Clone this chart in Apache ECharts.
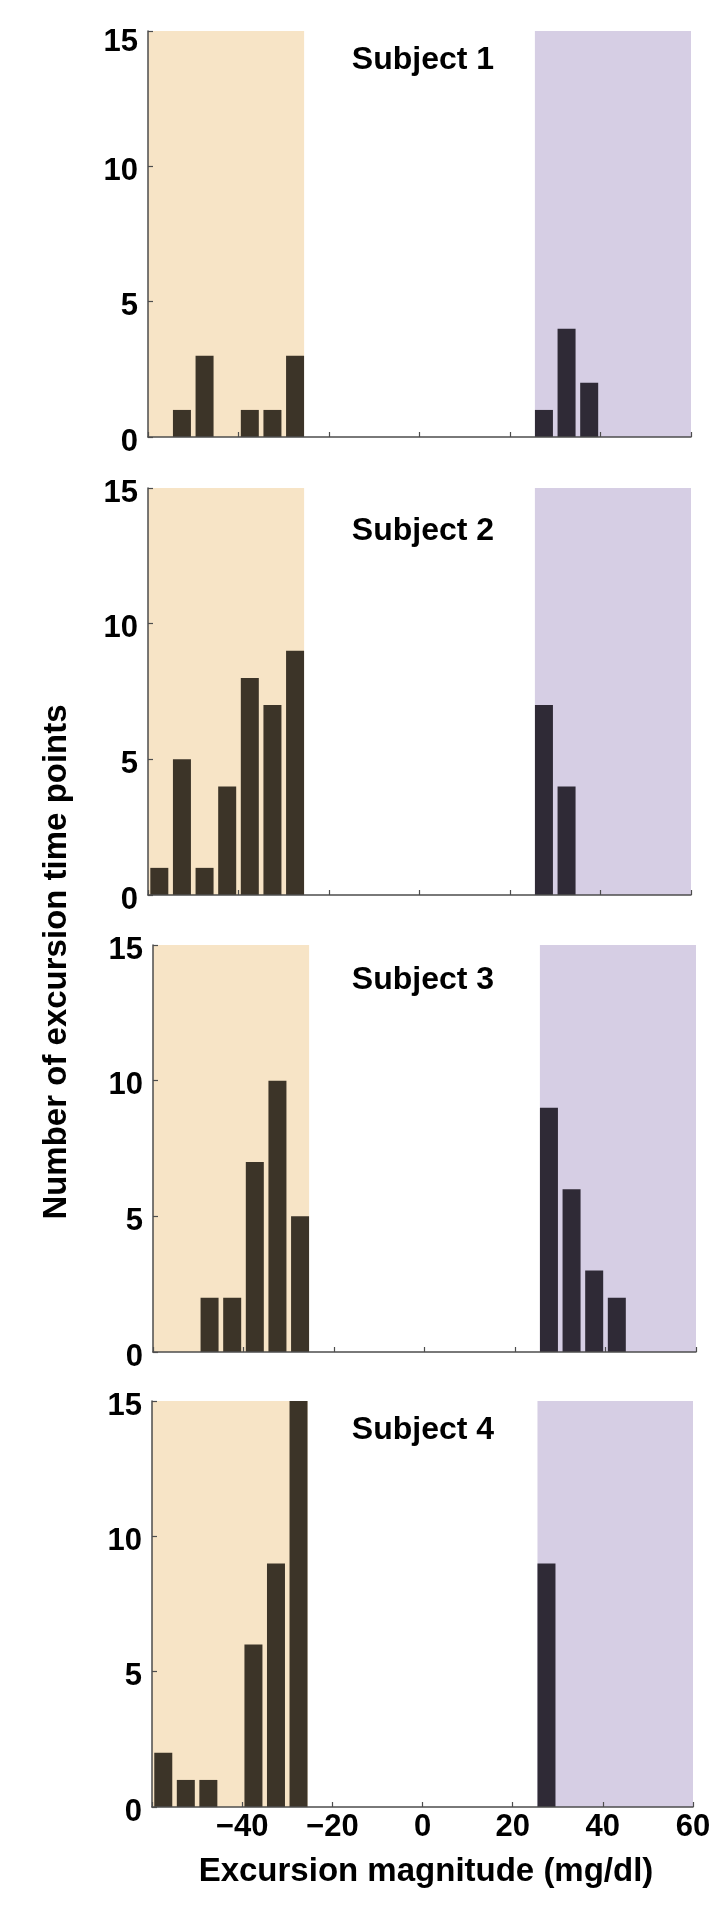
<!DOCTYPE html>
<html>
<head>
<meta charset="utf-8">
<script src="https://cdn.jsdelivr.net/npm/echarts@6/dist/echarts.min.js"></script>
<style>
html,body{margin:0;padding:0;background:#fff;}
#chart{width:724px;height:1907px;}
</style>
</head>
<body>
<div id="chart"></div>
<script>
// ---- data ----
const binCenters = [-57.5, -52.5, -47.5, -42.5, -37.5, -32.5, -27.5, 27.5, 32.5, 37.5, 42.5, 47.5, 52.5, 57.5];
const subject1 = [0, 1, 3, 0, 1, 1, 3, 1, 4, 2, 0, 0, 0, 0];
const subject2 = [1, 5, 1, 4, 8, 7, 9, 7, 4, 0, 0, 0, 0, 0];
const subject3 = [0, 0, 2, 2, 7, 10, 5, 9, 6, 3, 2, 0, 0, 0];
const subject4 = [2, 1, 1, 0, 6, 9, 15, 9, 0, 0, 0, 0, 0, 0];
const subjectNames = ['Subject 1', 'Subject 2', 'Subject 3', 'Subject 4'];
const lowRange = [-60, -25.5];
const highRange = [25.5, 60];
const xMin = -60, xMax = 60, xStep = 20;
const yMin = 0, yMax = 15, yStep = 5;
const xTitle = 'Excursion magnitude (mg/dl)';
const yTitle = 'Number of excursion time points';

// ---- layout / style ----
const counts = [subject1, subject2, subject3, subject4];
const grids = [
  {left: 148, top: 31, width: 543, height: 406},
  {left: 148, top: 488, width: 543, height: 407},
  {left: 153, top: 945, width: 543, height: 407},
  {left: 152, top: 1401, width: 541, height: 406}
];
const titleY = [60, 531, 980, 1430];
const FONT = 'Liberation Sans, Arial, Helvetica, sans-serif';
const axisColor = '#4d4d4d';
const lowBar = '#3c3428';
const highBar = '#2f2a36';
const lowBg = '#f7e4c6';
const highBg = '#d6cee4';
const minus = s => String(s).replace('-', '\u2212');

const option = {
  animation: false,
  backgroundColor: '#ffffff',
  grid: grids.map(g => Object.assign({containLabel: false}, g)),
  xAxis: grids.map((g, i) => ({
    type: 'value', gridIndex: i, min: xMin, max: xMax, interval: xStep, z: 10,
    axisLine: {show: true, onZero: false, lineStyle: {color: axisColor, width: 1.5}},
    axisTick: {show: true, inside: true, length: 5, lineStyle: {color: axisColor, width: 1.2}},
    splitLine: {show: false},
    axisLabel: {
      show: i === 3, margin: 5, color: '#000', fontFamily: FONT, fontWeight: 'bold', fontSize: 31,
      formatter: v => (v === xMin ? '' : minus(v))
    }
  })),
  yAxis: grids.map((g, i) => ({
    type: 'value', gridIndex: i, min: yMin, max: yMax, interval: yStep, z: 10,
    axisLine: {show: true, onZero: false, lineStyle: {color: axisColor, width: 1.5}},
    axisTick: {show: true, inside: true, length: 5, lineStyle: {color: axisColor, width: 1.2}},
    splitLine: {show: false},
    axisLabel: {
      margin: 10, color: '#000', fontFamily: FONT, fontWeight: 'bold', fontSize: 31,
      formatter: v => (i === 0 && v === yMax ? '{b|' + v + '}' : '{a|' + v + '}'),
      rich: {
        a: {fontFamily: FONT, fontWeight: 'bold', fontSize: 31, color: '#000', padding: [10, 0, 0, 0]},
        b: {fontFamily: FONT, fontWeight: 'bold', fontSize: 31, color: '#000', padding: [22, 0, 0, 0]}
      }
    }
  })),
  series: []
};

counts.forEach((c, i) => {
  option.series.push({
    type: 'line', xAxisIndex: i, yAxisIndex: i, data: [], silent: true, z: 1,
    markArea: {
      silent: true,
      label: {show: false},
      emphasis: {disabled: true},
      data: [
        [{xAxis: lowRange[0], yAxis: yMin, itemStyle: {color: lowBg, opacity: 1}}, {xAxis: lowRange[1], yAxis: yMax}],
        [{xAxis: highRange[0], yAxis: yMin, itemStyle: {color: highBg, opacity: 1}}, {xAxis: highRange[1], yAxis: yMax}]
      ]
    }
  });
  option.series.push({
    type: 'bar', xAxisIndex: i, yAxisIndex: i, z: 3, barWidth: 18, silent: true,
    data: binCenters.map((x, k) => [x, c[k]]),
    itemStyle: {color: p => (p.value[0] < 0 ? lowBar : highBar)}
  });
});

option.graphic = subjectNames.map((t, i) => ({
  type: 'text', x: 423, y: titleY[i], z: 20,
  style: {text: t, fill: '#000', font: 'bold 32px ' + FONT, textAlign: 'center', textVerticalAlign: 'middle'}
})).concat([
  {type: 'text', x: 426, y: 1872, z: 20,
   style: {text: xTitle, fill: '#000', font: 'bold 33px ' + FONT, textAlign: 'center', textVerticalAlign: 'middle'}},
  {type: 'text', x: 57, y: 962, rotation: Math.PI / 2, z: 20,
   style: {text: yTitle, fill: '#000', font: 'bold 33px ' + FONT, textAlign: 'center', textVerticalAlign: 'middle'}}
]);

const chart = echarts.init(document.getElementById('chart'), null, {renderer: 'canvas', width: 724, height: 1907});
chart.setOption(option);
</script>
</body>
</html>
